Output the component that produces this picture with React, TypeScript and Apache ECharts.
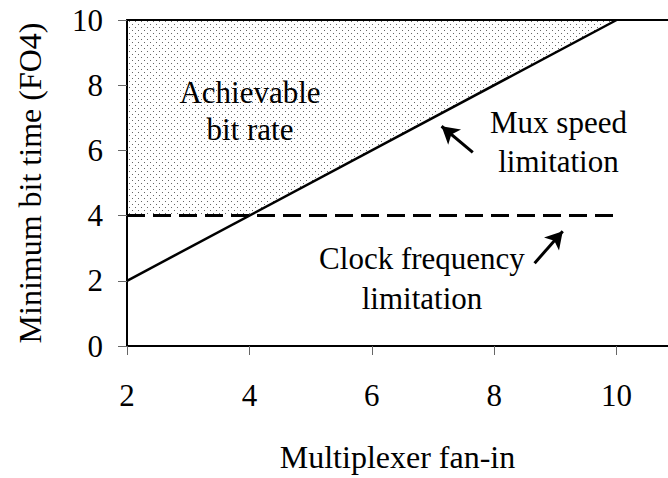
import React, { useEffect, useRef } from 'react';
import * as echarts from 'echarts';

const xTicks = [2, 4, 6, 8, 10];
const yTicks = [0, 2, 4, 6, 8, 10];
const muxX = [2, 10];
const muxY = [2, 10];
const clockX = [2, 10];
const clockY = [4, 4];
const regionX = [2, 4, 10];
const regionY = [4, 4, 10];
const noteText = ['Achievable\nbit rate', 'Mux speed\nlimitation', 'Clock frequency\nlimitation'];
const noteX = [4.01, 9.05, 6.82];
const noteY = [7.2, 6.25, 2.06];
const arrowFrom = [[7.65, 5.94], [8.66, 2.54]];
const arrowTo = [[7.14, 6.74], [9.12, 3.52]];

const FONT = "'Liberation Serif', 'Times New Roman', serif";

export default function App() {
  const ref = useRef<HTMLDivElement>(null);
  useEffect(() => {
    if (!ref.current) return;
    const chart = echarts.init(ref.current, undefined, { renderer: 'svg' });
    const cv = document.createElement('canvas');
    cv.width = 6;
    cv.height = 6;
    const ctx = cv.getContext('2d')!;
    ctx.fillStyle = '#666';
    ctx.fillRect(0, 0, 1, 1);
    ctx.fillRect(3, 3, 1, 1);

    const xMax = 2 + (668 - 127) / 61.2;
    const axisCommon = {
      axisLine: { show: true, onZero: false, lineStyle: { color: '#000', width: 2 } },
      splitLine: { show: false },
    };
    const option: any = {
      animation: false,
      backgroundColor: '#fff',
      textStyle: { fontFamily: FONT },
      grid: { left: 127, right: 0, top: 20, bottom: 132, containLabel: false, outerBoundsMode: 'none' },
      xAxis: [
        {
          type: 'value',
          min: 2,
          max: xMax,
          interval: 2,
          position: 'bottom',
          ...axisCommon,
          axisTick: { show: true, inside: false, length: 9, customValues: xTicks, lineStyle: { color: '#666', width: 1 } },
          axisLabel: { customValues: xTicks, margin: 34, color: '#000', fontSize: 31, fontFamily: FONT },
          name: 'Multiplexer fan-in',
          nameLocation: 'middle',
          nameGap: 95,
          nameTextStyle: { color: '#000', fontSize: 32, fontFamily: FONT },
        },
        {
          type: 'value',
          min: 2,
          max: xMax,
          position: 'top',
          ...axisCommon,
          axisTick: { show: false },
          axisLabel: { show: false },
        },
      ],
      yAxis: {
        type: 'value',
        min: 0,
        max: 10,
        interval: 2,
        ...axisCommon,
        axisTick: { show: true, inside: false, length: 9, customValues: yTicks, lineStyle: { color: '#666', width: 1 } },
        axisLabel: { customValues: yTicks, margin: 24, color: '#000', fontSize: 31, fontFamily: FONT },
        name: 'Minimum bit time (FO4)',
        nameLocation: 'middle',
        nameRotate: 90,
        nameGap: 81,
        nameTextStyle: { color: '#000', fontSize: 32, fontFamily: FONT },
      },
      series: [
        {
          type: 'line',
          data: regionX.map((x, i) => [x, regionY[i]]),
          symbol: 'none',
          lineStyle: { width: 0, opacity: 0 },
          areaStyle: {
            origin: 'end',
            opacity: 1,
            color: { image: cv, repeat: 'repeat', imageWidth: 6, imageHeight: 6 },
          },
          z: 1,
        },
        {
          type: 'line',
          data: clockX.map((x, i) => [x, clockY[i]]),
          symbol: 'none',
          lineStyle: { color: '#000', width: 3, type: [18, 8] },
          z: 3,
        },
        {
          type: 'line',
          data: muxX.map((x, i) => [x, muxY[i]]),
          symbol: 'none',
          lineStyle: { color: '#000', width: 2.5 },
          z: 3,
        },
        {
          type: 'scatter',
          symbolSize: 0,
          itemStyle: { color: '#000', opacity: 1 },
          data: noteText.map((t, i) => ({
            value: [noteX[i], noteY[i]],
            label: { lineHeight: i === 0 ? 37 : i === 1 ? 39 : 40 },
          })),
          label: {
            show: true,
            position: 'inside',
            formatter: (p: any) => noteText[p.dataIndex],
            color: '#000',
            opacity: 1,
            textBorderWidth: 0,
            textBorderColor: 'transparent',
            fontSize: 31,
            fontFamily: FONT,
            align: 'center',
            verticalAlign: 'middle',
          },
          markLine: {
            silent: true,
            symbol: ['none', 'arrow'],
            symbolSize: [15, 17],
            label: { show: false },
            lineStyle: { color: '#000', width: 3, type: 'solid', opacity: 1 },
            itemStyle: { color: '#000', opacity: 1 },
            data: arrowFrom.map((f, i) => [{ coord: f }, { coord: arrowTo[i] }]),
          },
          z: 4,
        },
      ],
    };
    chart.setOption(option);
    return () => chart.dispose();
  }, []);
  return <div ref={ref} style={{ position: 'fixed', left: 0, top: 0, width: 668, height: 478 }} />;
}
